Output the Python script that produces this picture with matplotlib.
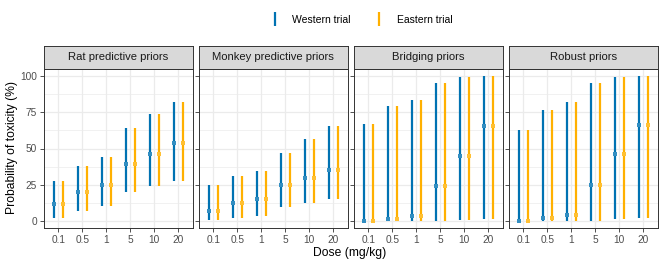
import matplotlib
matplotlib.use("Agg")
import matplotlib.pyplot as plt
from matplotlib.lines import Line2D
import matplotlib.colors as mcolors
import numpy as np

plt.rcParams['font.family'] = ['Liberation Sans', 'DejaVu Sans']

doses = ["0.1", "0.5", "1", "5", "10", "20"]
panels = ["Rat predictive priors", "Monkey predictive priors", "Bridging priors", "Robust priors"]

# median, lower, upper (%) per panel
rat_mid = [11.7, 19.9, 25.0, 39.1, 46.3, 53.6]
rat_lo = [2.1, 6.7, 10.3, 20.2, 24.3, 27.7]
rat_hi = [27.7, 38.0, 44.2, 63.9, 73.8, 82.2]

monkey_mid = [6.9, 12.2, 14.9, 24.5, 29.3, 35.0]
monkey_lo = [0.5, 2.1, 3.4, 9.4, 12.4, 15.1]
monkey_hi = [24.5, 30.7, 34.1, 47.2, 56.3, 65.7]

bridging_mid = [0.0, 1.4, 3.4, 24.0, 45.1, 65.7]
bridging_lo = [0.0, 0.0, 0.0, 0.0, 0.7, 1.2]
bridging_hi = [67.1, 79.5, 83.6, 95.0, 99.6, 100.0]

robust_mid = [0.0, 1.6, 3.9, 24.5, 46.0, 66.2]
robust_lo = [0.0, 0.0, 0.0, 0.0, 0.9, 1.6]
robust_hi = [63.0, 76.5, 82.2, 95.0, 99.6, 100.0]

data = [
    (rat_mid, rat_lo, rat_hi),
    (monkey_mid, monkey_lo, monkey_hi),
    (bridging_mid, bridging_lo, bridging_hi),
    (robust_mid, robust_lo, robust_hi),
]

trials = ["Western trial", "Eastern trial"]
colors = ["#0072B2", "#FFB000"]
offsets = [-0.175, 0.175]


def lighten(c, f=0.3):
    r = np.array(mcolors.to_rgb(c))
    return tuple(r + (1 - r) * f)


W, H = 664, 266
fig = plt.figure(figsize=(W / 100, H / 100), dpi=100)

lefts = [44, 199, 354, 509]
pw = 148.7
top_px, bot_px = 69, 228
strip_top = 46

border = "#333333"
for i, (name, (mid, lo, hi)) in enumerate(zip(panels, data)):
    l = lefts[i]
    ax = fig.add_axes([l / W, 1 - bot_px / H, pw / W, (bot_px - top_px) / H])
    ax.set_facecolor("white")
    x = np.arange(1, len(doses) + 1)
    ax.set_xlim(0.4, len(doses) + 0.6)
    ax.set_ylim(-5, 105)
    ax.set_yticks([0, 25, 50, 75, 100])
    ax.set_yticks([12.5, 37.5, 62.5, 87.5], minor=True)
    ax.set_xticks(x)
    ax.set_xticklabels(doses)
    ax.grid(True, which='major', color="#EBEBEB", lw=0.9, zorder=0)
    ax.grid(True, which='minor', axis='y', color="#EBEBEB", lw=0.5, zorder=0)
    ax.tick_params(axis='y', which='minor', length=0)
    ax.tick_params(which='major', length=3, width=0.6, color=border, labelsize=7.3, labelcolor="#4D4D4D", pad=2)
    if i > 0:
        ax.tick_params(axis='y', labelleft=False)
    for s in ax.spines.values():
        s.set_color(border)
        s.set_linewidth(0.7)
    ax.set_axisbelow(True)
    for t, (c, off) in enumerate(zip(colors, offsets)):
        ax.vlines(x + off, lo, hi, color=c, lw=1.6, zorder=3)
        ax.plot(x + off, mid, 's', color=lighten(c, 0.2), mew=0, ms=2.3, zorder=4)
    # strip
    sax = fig.add_axes([l / W, 1 - top_px / H, pw / W, (top_px - strip_top) / H])
    sax.set_facecolor("#D9D9D9")
    sax.set_xticks([]); sax.set_yticks([])
    for s in sax.spines.values():
        s.set_color(border)
        s.set_linewidth(0.7)
    sax.text(0.5, 0.5, name, ha='center', va='center', fontsize=8.1, color="#1A1A1A", transform=sax.transAxes)

fig.text(12 / W, 1 - 148 / H, "Probability of toxicity (%)", rotation=90, ha='center', va='center', fontsize=8.7)
fig.text(350 / W, 1 - 253 / H, "Dose (mg/kg)", ha='center', va='center', fontsize=8.7)

handles = [Line2D([], [], color=c, marker='|', ms=10, mew=1.6, ls='None') for c in colors]
fig.legend(handles, trials, loc='center', bbox_to_anchor=(361 / W, 1 - 20 / H), ncol=2, frameon=False,
           fontsize=7.5, handlelength=1.0, handletextpad=1.2, columnspacing=2.2)

fig.savefig("out.png", dpi=100)
